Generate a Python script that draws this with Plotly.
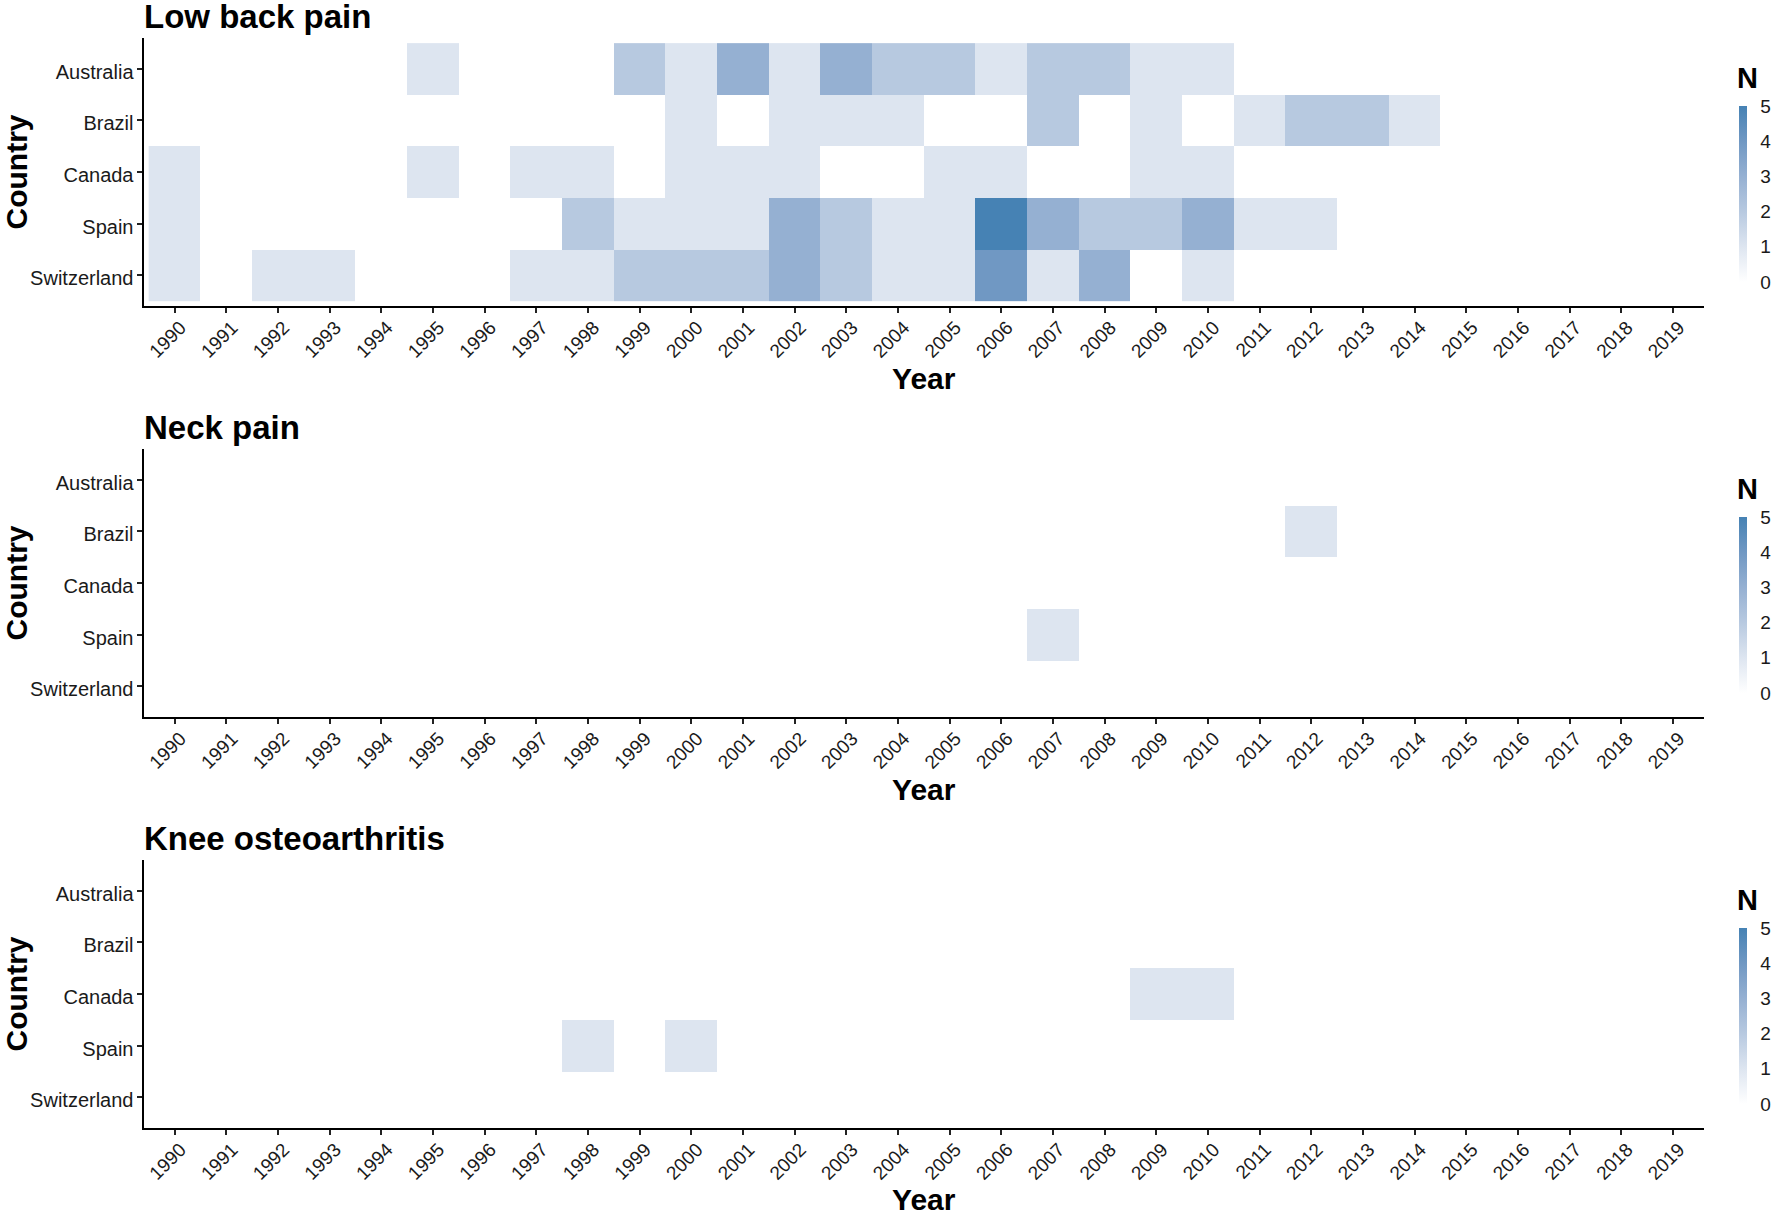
import plotly.graph_objects as go
from plotly.subplots import make_subplots

W = 1772
H = 1216

years = list(range(1990, 2020))
countries = ['Australia', 'Brazil', 'Canada', 'Spain', 'Switzerland']
panel_titles = ['Low back pain', 'Neck pain', 'Knee osteoarthritis']
bar_ticks = [0, 1, 2, 3, 4, 5]

# 1990 .. 2019, one row per country
low_back = [
    [0,0,0,0,0,1,0,0,0,2,1,3,1,3,2,2,1,2,2,1,1,0,0,0,0,0,0,0,0,0],
    [0,0,0,0,0,0,0,0,0,0,1,0,1,1,1,0,0,2,0,1,0,1,2,2,1,0,0,0,0,0],
    [1,0,0,0,0,1,0,1,1,0,1,1,1,0,0,1,1,0,0,1,1,0,0,0,0,0,0,0,0,0],
    [1,0,0,0,0,0,0,0,2,1,1,1,3,2,1,1,5,3,2,2,3,1,1,0,0,0,0,0,0,0],
    [1,0,1,1,0,0,0,1,1,2,2,2,3,2,1,1,4,1,3,0,1,0,0,0,0,0,0,0,0,0],
]
neck = [
    [0]*30,
    [0,0,0,0,0,0,0,0,0,0,0,0,0,0,0,0,0,0,0,0,0,0,1,0,0,0,0,0,0,0],
    [0]*30,
    [0,0,0,0,0,0,0,0,0,0,0,0,0,0,0,0,0,1,0,0,0,0,0,0,0,0,0,0,0,0],
    [0]*30,
]
knee = [
    [0]*30,
    [0]*30,
    [0,0,0,0,0,0,0,0,0,0,0,0,0,0,0,0,0,0,0,1,1,0,0,0,0,0,0,0,0,0],
    [0,0,0,0,0,0,0,0,1,0,1,0,0,0,0,0,0,0,0,0,0,0,0,0,0,0,0,0,0,0],
    [0]*30,
]
panels = [low_back, neck, knee]

blues = [[0, '#ffffff'], [0.2, '#dde5f0'], [0.4, '#b7c9e0'],
         [0.6, '#95b0d2'], [0.8, '#7098c3'], [1, '#4682b4']]

FONT = 'Liberation Sans'
plot_left, plot_right = 143.5, 1704
tops = [38, 449, 860]
plot_h = 268

fig = make_subplots(rows=3, cols=1)

for i, z in enumerate(panels):
    top = tops[i]
    bottom = top + plot_h
    fig.add_trace(go.Heatmap(
        z=z, x=[str(y) for y in years], y=countries,
        colorscale=blues, zmin=0, zmax=5,
        hoverongaps=False,
        colorbar=dict(
            x=1739 / W, xanchor='left', xpad=0,
            y=1 - (top + 68) / H, yanchor='top', ypad=0,
            len=176, lenmode='pixels',
            thickness=8, outlinewidth=0,
            tickvals=bar_ticks, ticks='outside', ticklen=10, tickwidth=1,
            tickcolor='white',
            tickfont=dict(family=FONT, size=19, color='#1a1a1a'),
        ),
    ), row=i + 1, col=1)

    xname = 'xaxis' if i == 0 else 'xaxis%d' % (i + 1)
    yname = 'yaxis' if i == 0 else 'yaxis%d' % (i + 1)
    fig.update_layout({
        xname: dict(
            type='category', range=[-0.6, 29.6],
            domain=[plot_left / W, plot_right / W],
            showline=True, linecolor='black', linewidth=2,
            ticks='outside', ticklen=5, tickwidth=1.5, tickcolor='#222222',
            tickangle=-45, showgrid=False, zeroline=False,
            ticklabelshift=6, ticklabelstandoff=-4,
            tickfont=dict(family=FONT, size=19, color='#1a1a1a'),
            title=dict(text='<b>Year</b>', standoff=7,
                       font=dict(family=FONT, size=30, color='black')),
            automargin=False,
        ),
        yname: dict(
            type='category', range=[4.6, -0.6],
            domain=[1 - bottom / H, 1 - top / H],
            showline=True, linecolor='black', linewidth=2,
            ticks='outside', ticklen=5, tickwidth=1.5, tickcolor='#222222',
            showgrid=False, zeroline=False,
            ticklabelshift=-3, ticklabelstandoff=-1,
            tickfont=dict(family=FONT, size=20, color='#1a1a1a'),
            title=dict(text='<b>Country</b>', standoff=12,
                       font=dict(family=FONT, size=30, color='black')),
            automargin=False,
        ),
    })
    fig.add_annotation(
        text='<b>%s</b>' % panel_titles[i], xref='paper', yref='paper',
        x=plot_left / W, y=1 - (top - 1) / H, xanchor='left', yanchor='bottom',
        showarrow=False, xshift=-2, font=dict(family=FONT, size=33, color='black'),
    )
    # legend title sits above the bar
    fig.add_annotation(
        text='<b>N</b>', xref='paper', yref='paper',
        x=1747 / W, y=1 - (top + 40) / H, xanchor='center', yanchor='middle',
        showarrow=False, font=dict(family=FONT, size=29, color='black'),
    )

fig.update_layout(
    width=W, height=H,
    margin=dict(l=0, r=0, t=0, b=0),
    paper_bgcolor='white', plot_bgcolor='white',
)

fig.write_html("out.html", config={'displayModeBar': False},
               post_script="document.body.style.margin='0';")
